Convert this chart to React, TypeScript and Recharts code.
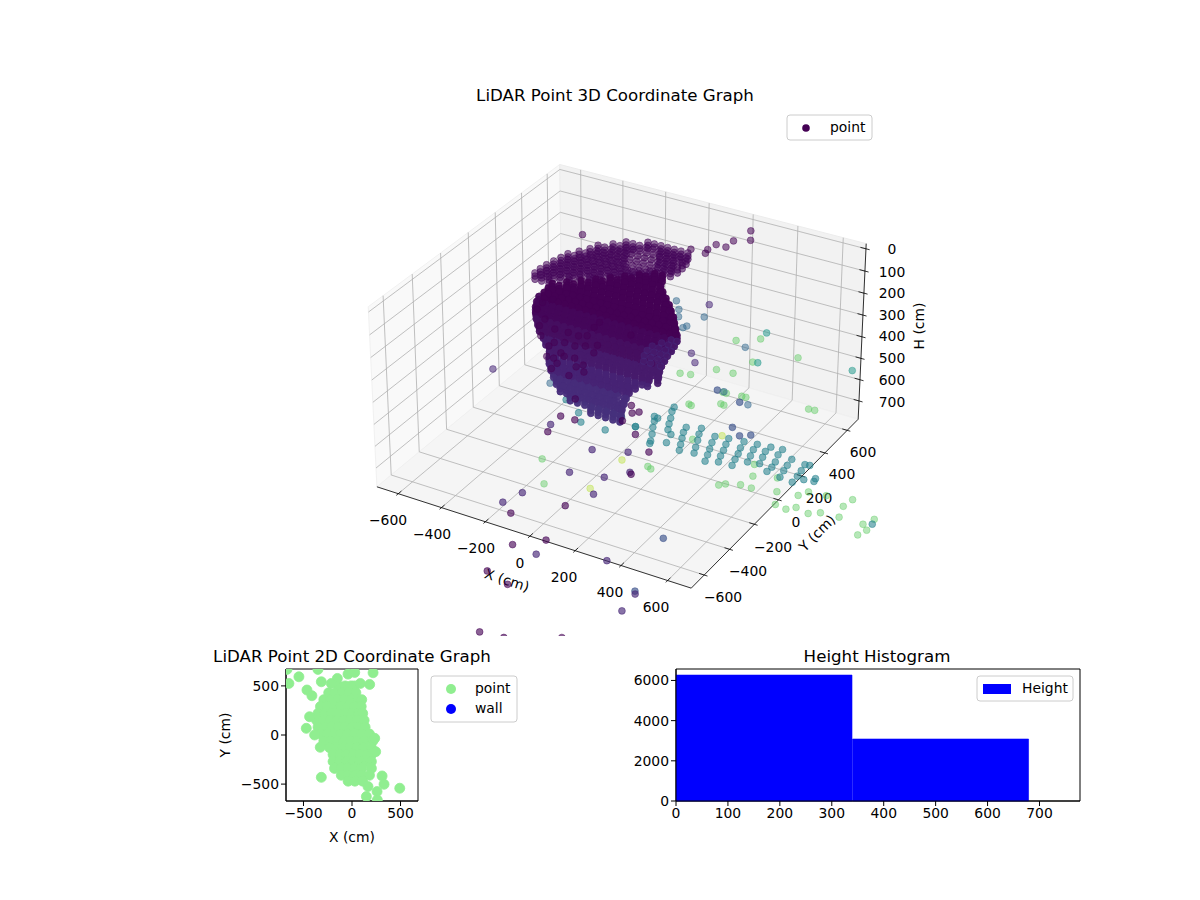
import { Bar, BarChart, ReferenceArea, ReferenceLine, Scatter, ScatterChart, XAxis, YAxis } from 'recharts';

const FONT = '"DejaVu Sans", sans-serif';

// limits of the 3D box
const LIM = 700;
const H_TOP = -23;
const H_BOTTOM = 787;
const xyTicks3d = [-600, -400, -200, 0, 200, 400, 600];
const hTicks3d = [0, 100, 200, 300, 400, 500, 600, 700];

// main column, one row of x values per y, repeated at these heights
const bodyHeights = [282, 296, 310];
const bodyRowY = [560, 520, 480, 440, 400, 360, 320, 280, 240, 200, 160, 120, 80, 40, 0, -40, -80, -120, -160, -200, -240, -280, -320, -360, -400, -440, -480];
const bodyRowX = [
  [-170, -135],
  [-219, -190, -158, -129],
  [-264, -232, -200, -168, -136, -97],
  [-308, -276, -244, -212, -180, -148, -116, -84, -65],
  [-353, -322, -290, -258, -226, -194, -162, -130, -98, -66, -28],
  [-398, -366, -334, -302, -270, -238, -206, -174, -142, -110, -78, -46, -14, 9],
  [-442, -410, -378, -346, -314, -282, -250, -218, -186, -154, -122, -90, -58, -26, 6, 40],
  [-486, -454, -422, -390, -358, -326, -294, -262, -230, -198, -166, -134, -102, -70, -38, -6, 26, 58, 73],
  [-481, -450, -418, -386, -354, -322, -290, -258, -226, -194, -162, -130, -98, -66, -34, -2, 30, 62, 100],
  [-476, -444, -412, -380, -348, -316, -284, -252, -220, -188, -156, -124, -92, -60, -28, 4, 36, 68, 100, 128],
  [-476, -446, -414, -382, -350, -318, -286, -254, -222, -190, -158, -126, -94, -62, -30, 2, 34, 66, 98, 130, 156],
  [-462, -430, -398, -366, -334, -302, -270, -238, -206, -174, -142, -110, -78, -46, -14, 18, 50, 82, 114, 146, 166],
  [-443, -414, -382, -350, -318, -286, -254, -222, -190, -158, -126, -94, -62, -30, 2, 34, 66, 98, 130, 162, 175],
  [-416, -384, -352, -320, -288, -256, -224, -192, -160, -128, -96, -64, -32, 0, 32, 64, 96, 128, 160, 180],
  [-384, -352, -320, -288, -256, -224, -192, -160, -128, -96, -64, -32, 0, 32, 64, 96, 128, 160, 190],
  [-352, -324, -292, -260, -228, -196, -164, -132, -100, -68, -36, -4, 28, 60, 92, 124, 156, 199],
  [-310, -280, -248, -216, -184, -152, -120, -88, -56, -24, 8, 40, 72, 104, 136, 168, 200, 213],
  [-274, -244, -212, -180, -148, -116, -84, -52, -20, 12, 44, 76, 108, 140, 172, 204, 231],
  [-232, -204, -172, -140, -108, -76, -44, -12, 20, 52, 84, 116, 148, 180, 212, 250],
  [-209, -180, -148, -116, -84, -52, -20, 12, 44, 76, 108, 140, 172, 204, 228],
  [-186, -156, -124, -92, -60, -28, 4, 36, 68, 100, 132, 164, 197],
  [-154, -124, -92, -60, -28, 4, 36, 68, 100, 132, 164, 193],
  [-118, -90, -58, -26, 6, 38, 70, 102, 134, 166, 203],
  [-81, -52, -20, 12, 44, 76, 108, 140, 172, 217],
  [-40, -12, 20, 52, 84, 116, 148, 180, 212, 231],
  [28, 60, 92, 124, 156, 188, 220, 250],
  [142, 174, 206, 238, 268],
];
const bodyRowColor = [
  '#440154', '#440154', '#440154', '#440154', '#440154', '#440154', '#440154', '#440154', '#440154', '#440154',
  '#45065a', '#45065a', '#45065a', '#460f60', '#460f60', '#460f60', '#471a6b', '#471a6b', '#471a6b', '#472374', '#472374',
  '#472374', '#472c7a', '#472c7a', '#472c7a', '#46307c', '#46307c',
];

// lighter bulge on the right of the column
const bulgeH = 310;
const bulgePoints = [
  [130, 160], [155, 160], [110, 120], [140, 120], [165, 120], [90, 80], [120, 80], [150, 80], [175, 80],
  [90, 40], [120, 40], [150, 40], [178, 40], [100, 0], [130, 0], [160, 0], [188, 0], [120, -40], [150, -40], [195, -40],
];

// back rim at the top of the column
const rimBaseH = 0;
const rimHeights = [14, 28];
const rimRowY = [320, 280, 240, 200, 160, 120, 80, 40, 0, -40, -80, -120];
const rimRowX = [
  [-67, -38, -8, 22, 52, 82, 113],
  [-143, -112, -82, -52, -22, 8, 38, 68, 98, 127],
  [-179, -148, -118, -88, -58, -28, 2, 32, 62, 92, 132],
  [-224, -194, -164, -134, -104, -74, -44, -14, 16, 46, 76, 106, 133],
  [-237, -207, -177, -147, -117, -87, -57, -27, 3, 33, 63, 93, 124],
  [-263, -233, -203, -173, -143, -113, -83, -53, -23, 7, 37, 67, 102],
  [-290, -260, -230, -200, -170, -140, -110, -80, -50, -20, 10, 40, 80],
  [-298, -268, -238, -208, -178, -148, -118, -88, -58, -28, 13],
  [-307, -277, -247, -217, -187, -157, -127, -97, -54],
  [-315, -285, -255, -225, -195, -165, -121],
  [-319, -289, -259, -229, -189],
  [-319, -289, -256],
];

// dark points lying over the column
const darkH = 100;
const darkPoints = [
  [-5, -502], [22, -471], [63, -463], [26, -529], [28, -573], [111, -585], [101, -516], [117, -492], [146, -535], [105, -393], [88, -337],
  [17, -293], [-11, -310], [7, -224], [158, -206], [218, -719], [-2, -455], [-34, -504], [-68, -433], [-135, -381], [-180, -317], [-189, -262],
  [-116, -310], [-58, -307], [51, -364], [5, -180], [-30, -381], [17, -384], [-64, -400], [-256, -210], [-265, -155], [-244, -113],
];

// rows on the floor
const floorH = 700;
const tealFloor = [
  [78, 284], [87, 250], [108, 202], [124, 160], [142, 119], [170, 93], [185, 30], [196, 171], [205, 132], [222, 90], [240, 46], [257, 5],
  [252, 195], [265, 151], [283, 107], [301, 58], [317, 16], [328, 167], [340, 120], [355, 74], [369, 31], [383, -15], [383, 180], [394, 136],
  [407, 92], [417, 49], [431, 6], [446, 190], [456, 141], [469, 98], [478, 55], [489, 10], [501, 198], [506, 155], [518, 108], [529, 63],
  [557, 206], [553, 167], [564, 123], [576, 75], [605, 213], [608, 169], [623, 117], [629, 76], [627, 39], [670, 166], [675, 118], [681, 76],
  [690, 27], [732, 157], [751, 161], [740, 110], [745, 67], [748, 18], [778, 57], [818, 65], [814, 86], [45, 181], [63, 176], [63, 149],
  [81, 105], [104, 58], [125, 10], [131, -8], [18, 75], [-232, 54], [-187, -4], [-73, -7], [-66, 111], [19, 75], [-328, 117], [1145, -95],
];
const greenFloor = [
  [118, 335], [228, 401], [192, 486], [273, 496], [553, 541], [262, 104], [512, -142], [531, -122], [584, -98], [631, -98], [596, -19], [561, 60],
  [684, 17], [728, -72], [765, -156], [815, -165], [843, -135], [811, -55], [834, -13], [905, -3], [902, -150], [940, -122], [1015, -114], [995, -38],
  [1005, 22], [1130, -189], [1145, -143], [1115, -113], [1137, -61], [209, -161], [228, -171], [-176, -319], [-75, -471],
];
const limeFloor = [[350, 186], [98, -170], [96, -411]];
const blueFloor = [[164, 490], [288, 450], [355, 263], [410, 220], [446, 247], [510, -574], [592, -931]];

// loose points at mid height, right of the column
const midH = 300;
const blueMid = [[2, 432], [45, 375], [73, 322], [138, 272], [131, 253], [162, 371], [417, 238], [507, -104], [631, -144], [-98, -379]];
const purpleMid = [[131, 470], [-43, 412], [24, 342], [38, 296], [258, 92], [305, 35], [-344, -397]];

const highH = 500;
const tealHigh = [[277, 695], [359, 462], [713, 595]];
const greenHigh = [[199, 578], [279, 639], [480, 578], [339, 457], [242, 332], [313, 339], [131, 234], [172, 246], [364, 188], [445, 199], [290, 37], [399, 103], [723, 245]];

// loose dark points near the top
const topH = 0;
const purpleTop = [[238, 609], [275, 537], [219, 499], [218, 438], [175, 437], [166, 384], [173, 352], [108, 353], [-323, 247]];

// loose points in front
const purpleFront = [
  [-281, -4], [-263, -133], [-217, -1], [76, -564], [-76, -712], [136, -804], [44, -893], [56, -1089], [167, -1126], [240, -1432], [333, -1418],
  [512, -1315], [160, -66], [181, -243], [48, 23], [-77, 209], [-25, 180], [-45, 159], [-49, 88],
];
const indigoFront = [
  [-282, -80], [-33, -350], [-42, -162], [90, -108], [170, -233], [102, -314], [128, -440], [-114, -567], [-143, -662], [154, -904], [403, -810], [602, -947], [614, -1064],
];

// 2D plot
const flatStrayX = [-650, -547, -351, -316, -464, -413, -670, -151, -41, 28, 217, 182, 86, -213, -437, -471, -385, -327, -316, 310, 330, 492, 258, 165, 148, 261, 234, 244];
const flatStrayY = [525, 593, 668, 542, 458, 400, 668, 576, 620, 637, 634, 515, 525, 525, 186, 68, 0, -125, -431, -417, -502, -542, -576, -525, -627, -661, -34, -170];
const flatRowY = [500, 430, 360, 290, 220, 150, 80, 10, -60, -130, -200, -270, -340, -410, -470];
const flatRowX = [
  [-140, -70, -10, 25],
  [-240, -170, -100, -30, 40],
  [-290, -220, -150, -80, -10, 60, 100],
  [-325, -255, -185, -115, -45, 25, 95],
  [-350, -280, -210, -140, -70, 0, 70, 110],
  [-365, -295, -225, -155, -85, -15, 55, 125],
  [-350, -280, -210, -140, -70, 0, 70, 135],
  [-325, -255, -185, -115, -45, 25, 95, 180],
  [-290, -220, -150, -80, -10, 60, 130, 215],
  [-230, -160, -90, -20, 50, 120, 200],
  [-195, -125, -55, 15, 85, 155, 200],
  [-195, -125, -55, 15, 85, 155, 200],
  [-180, -110, -40, 30, 100, 200],
  [-110, -40, 30, 100, 180],
  [-40, 30, 110],
];
const flatTicks = [-500, 0, 500];

// histogram
const histCenters = [170, 510];
const histCounts = [6268, 3085];
const histXTicks = [0, 100, 200, 300, 400, 500, 600, 700];
const histYTicks = [0, 2000, 4000, 6000];

const histData = histCenters.map((center, i) => ({ center, count: histCounts[i] }));
const flatData = [
  ...flatRowY.flatMap((y, i) => flatRowX[i].map((x) => ({ x, y }))),
  ...flatStrayX.map((x, i) => ({ x, y: flatStrayY[i] })),
];

// same camera as a default mplot3d view, elev 30 azim -60
function project(x: number, y: number, h: number) {
  const sx = x / LIM;
  const sy = y / LIM;
  const sz = -(h - (H_TOP + H_BOTTOM) / 2) / ((H_BOTTOM - H_TOP) / 2);
  const u = 0.5156 * sx + 0.2977 * sy;
  const v = -0.149 * sx + 0.2577 * sy + 0.2955 * sz;
  const w = 10 - (0.2577 * sx - 0.4464 * sy + 0.1705 * sz);
  return { px: 622 + (3008 * u) / w, py: 365 - (3008 * v) / w };
}

const atHeight = (points: number[][], h: number) => points.map(([x, y]) => project(x, y, h));
const rowPoints = (rowY: number, xs: number[], h: number) => xs.map((x) => project(x, rowY, h));
// the thin patch of the rim, where the wall still shows through
const inRimPatch = (p: { px: number; py: number }) => p.px > 627 && p.px < 657 && p.py > 250 && p.py < 270;

function segment(a: number[], b: number[]) {
  const p = project(a[0], a[1], a[2]);
  const q = project(b[0], b[1], b[2]);
  return [{ x: p.px, y: p.py }, { x: q.px, y: q.py }] as any;
}

function polygon(corners: number[][]) {
  return corners.map(([x, y, h]) => {
    const p = project(x, y, h);
    return `${p.px},${p.py}`;
  }).join(' ');
}

const dot = (fill: string, opacity: number, r = 3.4) => (props: any) => (
  <circle cx={props.cx} cy={props.cy} r={r} fill={fill} fillOpacity={opacity} stroke={fill} strokeOpacity={opacity} strokeWidth={0.8} />
);

const minus = (v: number) => String(v).replace('-', '\u2212');

const gridSegments = [
  ...xyTicks3d.flatMap((t) => [
    segment([t, -LIM, H_BOTTOM], [t, LIM, H_BOTTOM]),
    segment([t, LIM, H_BOTTOM], [t, LIM, H_TOP]),
    segment([-LIM, t, H_BOTTOM], [LIM, t, H_BOTTOM]),
    segment([-LIM, t, H_BOTTOM], [-LIM, t, H_TOP]),
  ]),
  ...hTicks3d.flatMap((t) => [
    segment([-LIM, -LIM, t], [-LIM, LIM, t]),
    segment([-LIM, LIM, t], [LIM, LIM, t]),
  ]),
];
const axisSegments = [
  segment([-LIM, -LIM, H_BOTTOM], [LIM, -LIM, H_BOTTOM]),
  segment([LIM, -LIM, H_BOTTOM], [LIM, LIM, H_BOTTOM]),
  segment([LIM, LIM, H_BOTTOM], [LIM, LIM, H_TOP]),
  ...xyTicks3d.flatMap((t) => [
    segment([t, -LIM - 14, H_BOTTOM], [t, -LIM + 22, H_BOTTOM]),
    segment([LIM - 22, t, H_BOTTOM], [LIM + 14, t, H_BOTTOM]),
  ]),
  ...hTicks3d.map((t) => segment([LIM - 24, LIM, t], [LIM + 16, LIM, t])),
];

const xLabels3d: [number, number, number][] = [[-600, 388, 520], [-400, 432, 534], [-200, 476, 548], [0, 520, 563], [200, 564, 577], [400, 610, 592], [600, 656, 607]];
const yLabels3d: [number, number, number][] = [[-600, 723, 597], [-400, 748, 571], [-200, 773, 547], [0, 796, 522], [200, 819, 498], [400, 842, 474], [600, 863, 452]];
const hLabels3d: [number, number, number][] = [[0, 892, 249], [100, 892, 272], [200, 892, 293], [300, 892, 315], [400, 892, 336], [500, 892, 358], [600, 892, 380], [700, 892, 402]];

const tickStyle = { fill: '#000', fontSize: 13.9, fontFamily: FONT };

function BackLayer() {
  const txt = { fontFamily: FONT, fontSize: 13.9, fill: '#000', textAnchor: 'middle' as const, dominantBaseline: 'central' as const };
  return (
    <svg width={1200} height={900} style={{ position: 'absolute', left: 0, top: 0 }}>
      <polygon points={polygon([[-LIM, -LIM, H_BOTTOM], [-LIM, LIM, H_BOTTOM], [-LIM, LIM, H_TOP], [-LIM, -LIM, H_TOP]])} fill="#f9f9f9" stroke="#f1f1f1" />
      <polygon points={polygon([[-LIM, LIM, H_BOTTOM], [LIM, LIM, H_BOTTOM], [LIM, LIM, H_TOP], [-LIM, LIM, H_TOP]])} fill="#f2f2f2" stroke="#ececec" />
      <polygon points={polygon([[-LIM, -LIM, H_BOTTOM], [LIM, -LIM, H_BOTTOM], [LIM, LIM, H_BOTTOM], [-LIM, LIM, H_BOTTOM]])} fill="#f5f5f5" stroke="#f0f0f0" />
      <text x={615} y={95} {...txt} fontSize={16.67}>LiDAR Point 3D Coordinate Graph</text>
      {[...xLabels3d, ...yLabels3d, ...hLabels3d].map(([v, x, y], i) => (
        <text key={i} x={x} y={y} {...txt}>{minus(v)}</text>
      ))}
      <text x={507} y={580} {...txt} transform="rotate(18 507 580)">X (cm)</text>
      <text x={817} y={533} {...txt} transform="rotate(-45 817 533)">Y (cm)</text>
      <text x={919} y={326} {...txt} transform="rotate(-90 919 326)">H (cm)</text>
      <text x={352} y={656} {...txt} fontSize={16.67}>LiDAR Point 2D Coordinate Graph</text>
      <text x={352} y={837} {...txt}>X (cm)</text>
      <text x={225} y={735} {...txt} transform="rotate(-90 225 735)">Y (cm)</text>
      <text x={877} y={656} {...txt} fontSize={16.67}>Height Histogram</text>
    </svg>
  );
}

function LegendBox({ left, top, width, height, children }: any) {
  return (
    <svg width={width + 2} height={height + 2} style={{ position: 'absolute', left: left - 1, top: top - 1 }}>
      <rect x={1} y={1} width={width} height={height} rx={3} fill="#fff" fillOpacity={0.8} stroke="#ccc" strokeWidth={1} />
      {children}
    </svg>
  );
}

function Legends() {
  const txt = { fontFamily: FONT, fontSize: 13.9, fill: '#000', dominantBaseline: 'central' as const };
  return (
    <>
      <LegendBox left={787} top={115} width={85} height={25}>
        <circle cx={20} cy={14} r={3.8} fill="#440154" />
        <text x={44} y={13} {...txt}>point</text>
      </LegendBox>
      <LegendBox left={431} top={676} width={86} height={46}>
        <circle cx={21} cy={14} r={5} fill="#90ee90" />
        <circle cx={21} cy={34} r={5} fill="#0000ff" />
        <text x={45} y={13} {...txt}>point</text>
        <text x={45} y={33} {...txt}>wall</text>
      </LegendBox>
      <LegendBox left={977} top={676} width={96} height={25}>
        <rect x={7} y={9} width={28} height={10} fill="#0000ff" />
        <text x={46} y={13} {...txt}>Height</text>
      </LegendBox>
    </>
  );
}

function Cloud3D() {
  return (
    <div style={{ position: 'absolute', left: 350, top: 108 }}>
      <ScatterChart width={528} height={528} margin={{ top: 0, right: 0, bottom: 0, left: 0 }}>
        <XAxis type="number" dataKey="px" domain={[350, 878]} hide allowDataOverflow />
        <YAxis type="number" dataKey="py" domain={[108, 636]} reversed hide allowDataOverflow />
        {gridSegments.map((s, i) => (
          <ReferenceLine key={i} segment={s} stroke="#b0b0b0" strokeWidth={0.8} />
        ))}
        {axisSegments.map((s, i) => (
          <ReferenceLine key={i} segment={s} stroke="#000" strokeWidth={0.8} />
        ))}
        <Scatter data={atHeight(greenFloor, floorH)} shape={dot('#5ec962', 0.45)} isAnimationActive={false} />
        <Scatter data={atHeight(greenHigh, highH)} shape={dot('#5ec962', 0.45)} isAnimationActive={false} />
        <Scatter data={atHeight(limeFloor, floorH)} shape={dot('#b5de2b', 0.4)} isAnimationActive={false} />
        <Scatter data={atHeight(tealHigh, highH)} shape={dot('#2a9d8f', 0.55)} isAnimationActive={false} />
        <Scatter data={atHeight(blueFloor, floorH)} shape={dot('#3b528b', 0.65)} isAnimationActive={false} />
        <Scatter data={atHeight(blueMid, midH)} shape={dot('#31688e', 0.5)} isAnimationActive={false} />
        <Scatter data={atHeight(tealFloor, floorH)} shape={dot('#26828e', 0.58)} isAnimationActive={false} />
        <Scatter data={atHeight(purpleMid, midH)} shape={dot('#482878', 0.55)} isAnimationActive={false} />
        <Scatter data={atHeight(purpleTop, topH)} shape={dot('#440154', 0.55)} isAnimationActive={false} />
        {rimRowY.map((y, i) => (
          <Scatter key={y} data={rowPoints(y, rimRowX[i], rimBaseH)} shape={dot('#45065a', 0.55)} isAnimationActive={false} />
        ))}
        {rimRowY.map((y, i) => (
          <Scatter key={`p${y}`} data={rowPoints(y, rimRowX[i], rimHeights[0]).filter(inRimPatch)} shape={dot('#45065a', 0.3)} isAnimationActive={false} />
        ))}
        {rimHeights.flatMap((h) => rimRowY.map((y, i) => (
          <Scatter key={`${h}-${y}`} data={rowPoints(y, rimRowX[i], h).filter((p) => !inRimPatch(p))} shape={dot('#45065a', 0.6)} isAnimationActive={false} />
        )))}
        {bodyHeights.flatMap((h) => bodyRowY.map((y, i) => (
          <Scatter key={`b${h}-${y}`} data={rowPoints(y, bodyRowX[i], h)} shape={dot(bodyRowColor[i], 0.95)} isAnimationActive={false} />
        )))}
        <Scatter data={atHeight(bulgePoints, bulgeH)} shape={dot('#46297a', 0.45)} isAnimationActive={false} />
        <Scatter data={atHeight(darkPoints, darkH)} shape={dot('#440154', 0.55)} isAnimationActive={false} />
        <Scatter data={atHeight(indigoFront, floorH)} shape={dot('#482878', 0.65)} isAnimationActive={false} />
        <Scatter data={atHeight(purpleFront, floorH)} shape={dot('#440154', 0.62)} isAnimationActive={false} />
      </ScatterChart>
    </div>
  );
}

function Flat2D() {
  return (
    <div style={{ position: 'absolute', left: 200, top: 660 }}>
      <ScatterChart width={240} height={190} margin={{ top: 9, right: 22, bottom: 0, left: 0 }}>
        <XAxis type="number" dataKey="x" domain={[-680, 680]} ticks={flatTicks} tickFormatter={minus} height={49} tick={tickStyle} tickSize={5} stroke="#000" allowDataOverflow interval={0} />
        <YAxis type="number" dataKey="y" domain={[-672, 672]} ticks={flatTicks} tickFormatter={minus} width={86} tick={tickStyle} tickSize={5} stroke="#000" allowDataOverflow interval={0} />
        <Scatter data={flatData} shape={dot('#90ee90', 1, 5)} isAnimationActive={false} />
        <ReferenceArea x1={-680} x2={680} y1={-672} y2={672} fill="none" stroke="#000" strokeWidth={1} />
      </ScatterChart>
    </div>
  );
}

function HeightHist() {
  return (
    <div style={{ position: 'absolute', left: 620, top: 660 }}>
      <BarChart width={480} height={190} data={histData} margin={{ top: 9, right: 20, bottom: 0, left: 0 }}>
        <XAxis type="number" dataKey="center" domain={[0, 778]} ticks={histXTicks} height={49} tick={tickStyle} tickSize={5} stroke="#000" allowDataOverflow interval={0} />
        <YAxis type="number" domain={[0, 6570]} ticks={histYTicks} width={56} tick={tickStyle} tickSize={5} stroke="#000" interval={0} />
        <Bar dataKey="count" fill="#0000ff" stroke="#0000ff" strokeWidth={0.6} barSize={176} isAnimationActive={false} />
        <ReferenceArea x1={0} x2={778} y1={0} y2={6570} fill="none" stroke="#000" strokeWidth={1} />
      </BarChart>
    </div>
  );
}

export default function App() {
  return (
    <div style={{ position: 'absolute', left: 0, top: 0, width: 1200, height: 900, background: '#fff', fontFamily: FONT }}>
      <BackLayer />
      <Cloud3D />
      <Flat2D />
      <HeightHist />
      <Legends />
    </div>
  );
}
